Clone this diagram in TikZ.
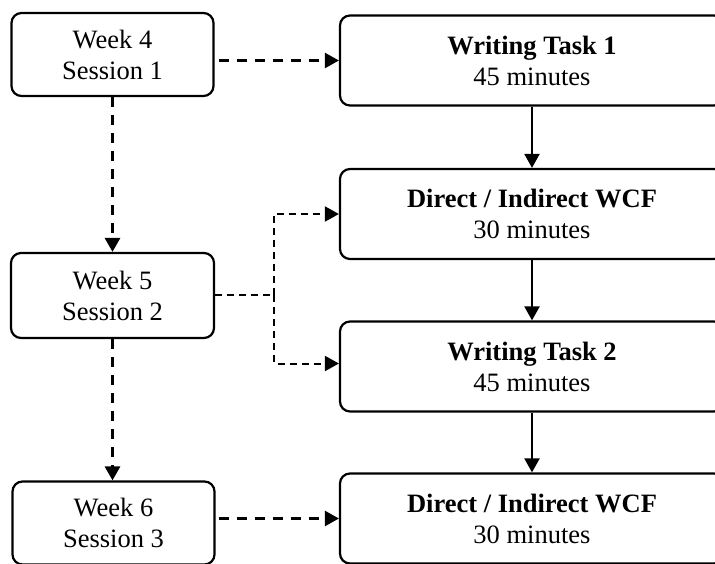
\documentclass[tikz,border=0pt]{standalone}
\usepackage{fontspec}
\setmainfont{Liberation Serif}
\usetikzlibrary{arrows.meta}
\begin{document}
\begin{tikzpicture}[x=1pt,y=-1pt,
  box/.style={draw, line width=2.2pt, rounded corners=10pt, align=center,
    font=\fontsize{26.5}{31}\selectfont, inner sep=0pt},
  lbox/.style={box, minimum width=202pt, minimum height=83pt},
  rbox/.style={box, minimum width=384pt, minimum height=90pt},
  dasharrow/.style={line width=2.5pt, dash pattern=on 10pt off 8pt, -{Triangle[length=14pt,width=15pt]}},
  vdasharrow/.style={line width=3pt, dash pattern=on 10pt off 8pt, -{Triangle[length=14pt,width=15pt]}},
  thindash/.style={line width=2pt, dash pattern=on 7pt off 5pt},
  solidarrow/.style={line width=2.2pt, -{Triangle[length=14pt,width=15pt]}}]
\useasboundingbox (0,0) rectangle (715,564);
\clip (0,0) rectangle (715,564);
\node[lbox] (L1) at (112.5,54.5) {Week 4\\Session 1};
\node[lbox, minimum width=203pt, minimum height=85pt] (L2) at (112.5,295.5) {Week 5\\Session 2};
\node[lbox] (L3) at (113.5,523) {Week 6\\Session 3};
\node[rbox] (R1) at (532,60.5) {\textbf{Writing Task 1}\\45 minutes};
\node[rbox] (R2) at (532,214) {\textbf{Direct / Indirect WCF}\\30 minutes};
\node[rbox] (R3) at (532,366.5) {\textbf{Writing Task 2}\\45 minutes};
\node[rbox] (R4) at (532,518.5) {\textbf{Direct / Indirect WCF}\\30 minutes};
\coordinate (j) at (274,295);
\draw[dasharrow] ([xshift=4pt]L1.east |- R1.west) -- (R1.west);
\draw[dasharrow] ([xshift=3pt]L3.east |- R4.west) -- (R4.west);
\draw[vdasharrow] (L1.south) -- (L1.south |- L2.north);
\draw[vdasharrow] (L2.south) -- (L2.south |- L3.north);
\draw[thindash] (L2.east |- j) -- (j);
\draw[thindash, -{Triangle[length=14pt,width=15pt]}] (j) |- (R2.west);
\draw[thindash, -{Triangle[length=14pt,width=15pt]}] (j) |- ([yshift=3pt]R3.west);
\draw[solidarrow] (R1) -- (R2);
\draw[solidarrow] (R2) -- (R3);
\draw[solidarrow] (R3) -- (R4);
\end{tikzpicture}
\end{document}
